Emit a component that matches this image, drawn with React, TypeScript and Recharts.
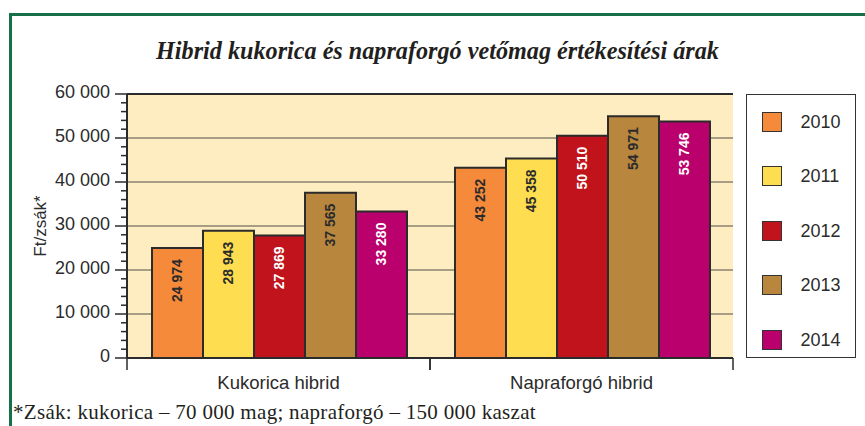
import React from 'react';
import { BarChart, Bar, XAxis, YAxis, CartesianGrid, Legend, LabelList, ReferenceLine } from 'recharts';

const categories = ['Kukorica hibrid', 'Napraforgó hibrid'];
const years = ['2010', '2011', '2012', '2013', '2014'];
const values2010 = [24974, 43252];
const values2011 = [28943, 45358];
const values2012 = [27869, 50510];
const values2013 = [37565, 54971];
const values2014 = [33280, 53746];
const majorTicks = [0, 10000, 20000, 30000, 40000, 50000, 60000];
const allTicks = [
  0, 2000, 4000, 6000, 8000, 10000, 12000, 14000, 16000, 18000, 20000,
  22000, 24000, 26000, 28000, 30000, 32000, 34000, 36000, 38000, 40000,
  42000, 44000, 46000, 48000, 50000, 52000, 54000, 56000, 58000, 60000,
];
const titleText = 'Hibrid kukorica és napraforgó vetőmag értékesítési árak';
const yLabelText = 'Ft/zsák*';
const footnoteText = '*Zsák: kukorica – 70 000 mag; napraforgó – 150 000 kaszat';

const seriesValues = [values2010, values2011, values2012, values2013, values2014];
const barColors = ['#f58a3b', '#fedd50', '#c1131c', '#b9863e', '#b9006c'];
const labelColors = ['#2b2b2b', '#2b2b2b', '#ffffff', '#2b2b2b', '#ffffff'];

const data = categories.map((c, i) => {
  const row: Record<string, string | number> = { category: c };
  years.forEach((yr, s) => {
    row['y' + yr] = seriesValues[s][i];
  });
  return row;
});

const SANS = '"Liberation Sans", Arial, Helvetica, sans-serif';
const SERIF = '"Liberation Serif", "Times New Roman", serif';
const DARK = '#2b2b2b';

const fmt = (n: number) => String(n).replace(/\B(?=(\d{3})+(?!\d))/g, ' ');

const YTick = (props: any) => {
  const { x, y, payload } = props;
  const major = majorTicks.includes(payload.value);
  return (
    <g>
      <line x1={x - (major ? 12 : 6)} x2={x} y1={y} y2={y} stroke={DARK} strokeWidth={1.5} />
      {major && (
        <text x={x - 17} y={y - 2} textAnchor="end" dominantBaseline="central" fontSize={18} fill={DARK} fontFamily={SANS}>
          {fmt(payload.value)}
        </text>
      )}
    </g>
  );
};

const XTick = (props: any) => {
  const { x, y, payload, width, visibleTicksCount } = props;
  const half = payload.offset ?? width / (2 * (visibleTicksCount || 2));
  return (
    <g>
      <line x1={x - half} x2={x - half} y1={y} y2={y + 12} stroke={DARK} strokeWidth={1.5} />
      <line x1={x + half} x2={x + half} y1={y} y2={y + 12} stroke={DARK} strokeWidth={1.5} />
      <text x={x} y={y + 24} textAnchor="middle" dominantBaseline="central" fontSize={18.5} fill={DARK} fontFamily={SANS}>
        {payload.value}
      </text>
    </g>
  );
};

const makeLabel = (color: string) => (props: any) => {
  const { x, y, width, value } = props;
  const cx = Number(x) + Number(width) / 2;
  const ty = Number(y) + 11;
  return (
    <text
      x={cx}
      y={ty}
      transform={`rotate(-90 ${cx} ${ty})`}
      textAnchor="end"
      dominantBaseline="central"
      fill={color}
      fontSize={14}
      fontWeight="bold"
      fontFamily={SANS}
    >
      {fmt(Number(value))}
    </text>
  );
};

const LegendBox = () => (
  <div
    style={{
      width: 110,
      height: 264,
      border: '1.5px solid #333',
      boxSizing: 'border-box',
      background: '#fff',
      position: 'relative',
    }}
  >
    {years.map((yr, i) => (
      <div
        key={yr}
        style={{
          position: 'absolute',
          left: 14.5,
          top: 28 + i * 54.5 - 10 - 1.5,
          height: 20,
          display: 'flex',
          alignItems: 'center',
        }}
      >
        <div
          style={{
            width: 20,
            height: 20,
            boxSizing: 'border-box',
            border: '1.5px solid #333',
            background: barColors[i],
          }}
        />
        <span style={{ marginLeft: 19, fontFamily: SANS, fontSize: 18, color: DARK, lineHeight: '20px' }}>{yr}</span>
      </div>
    ))}
  </div>
);

export default function App() {
  return (
    <div style={{ position: 'absolute', left: 0, top: 0, width: 865, height: 426, background: '#fff', overflow: 'hidden' }}>
      <div
        style={{
          position: 'absolute',
          left: 9,
          top: 13,
          width: 870,
          height: 420,
          borderLeft: '3px solid #16714a',
          borderTop: '3px solid #16714a',
        }}
      />
      <div
        style={{
          position: 'absolute',
          left: 0,
          top: 36,
          width: 875,
          textAlign: 'center',
          fontFamily: SERIF,
          fontStyle: 'italic',
          fontWeight: 'bold',
          fontSize: 26,
          lineHeight: '30px',
          color: '#231f20',
          transform: 'scaleX(0.93)',
          transformOrigin: '437px 50%',
        }}
      >
        {titleText}
      </div>
      <div
        style={{
          position: 'absolute',
          left: 13,
          top: 401,
          fontFamily: SERIF,
          fontSize: 21,
          letterSpacing: 0.3,
          lineHeight: '22px',
          color: '#231f20',
          whiteSpace: 'nowrap',
        }}
      >
        {footnoteText}
      </div>
      <div style={{ position: 'absolute', left: 0, top: 0 }}>
        <BarChart
          width={865}
          height={426}
          data={data}
          margin={{ top: 94, right: 132, bottom: 38, left: 27 }}
          barCategoryGap={25}
          barGap={0}
        >
          <CartesianGrid
            vertical={false}
            horizontalValues={majorTicks}
            fill="#fdedc0"
            fillOpacity={1}
            stroke="#8a8272"
            strokeWidth={1.5}
          />
          <XAxis
            dataKey="category"
            height={30}
            tickSize={0}
            tickMargin={0}
            tickLine={false}
            interval={0}
            axisLine={{ stroke: DARK, strokeWidth: 2 }}
            tick={<XTick />}
          />
          <YAxis
            width={100}
            domain={[0, 60000]}
            ticks={allTicks}
            interval={0}
            tickSize={0}
            tickMargin={0}
            tickLine={false}
            axisLine={{ stroke: DARK, strokeWidth: 2 }}
            tick={<YTick />}
            label={{
              content: (p: any) => {
                const vb = p.viewBox || { x: 27, y: 94, width: 100, height: 264 };
                const lx = vb.x + 13;
                const ly = vb.y + vb.height / 2;
                return (
                  <text
                    x={lx}
                    y={ly}
                    transform={`rotate(-90 ${lx} ${ly})`}
                    textAnchor="middle"
                    dominantBaseline="central"
                    fontSize={17}
                    fill={DARK}
                    fontFamily={SANS}
                  >
                    {yLabelText}
                  </text>
                );
              },
            }}
          />
          <YAxis
            yAxisId="right"
            orientation="right"
            width={0}
            domain={[0, 60000]}
            tick={false}
            tickLine={false}
            axisLine={{ stroke: DARK, strokeWidth: 2 }}
          />
          <ReferenceLine y={60000} stroke={DARK} strokeWidth={2} />
          {years.map((yr, i) => (
            <Bar
              key={yr}
              dataKey={'y' + yr}
              name={yr}
              fill={barColors[i]}
              stroke={DARK}
              strokeWidth={2}
              isAnimationActive={false}
            >
              <LabelList dataKey={'y' + yr} content={makeLabel(labelColors[i])} />
            </Bar>
          ))}
          <Legend
            layout="vertical"
            align="center"
            verticalAlign="middle"
            width={110}
            height={264}
            wrapperStyle={{ left: 746, top: 94, width: 110, height: 264 }}
            content={<LegendBox />}
          />
        </BarChart>
      </div>
    </div>
  );
}
